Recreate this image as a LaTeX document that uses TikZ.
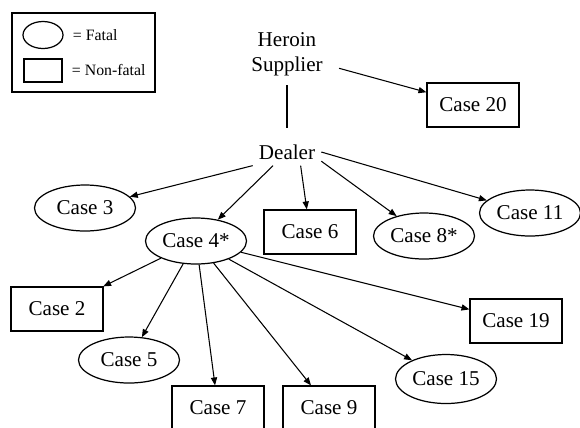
\documentclass[tikz,border=0pt]{standalone}
\usepackage{fontspec}
\setmainfont{Liberation Serif}
\usetikzlibrary{positioning, shapes.geometric, arrows.meta}

\begin{document}
\begin{tikzpicture}[
                 x = 0.02cm, y = -0.02cm,
              font = \fontsize{12}{14}\selectfont,
                 > = {Triangle[length=4.5pt, width=3.5pt]},
     node distance = 1.8mm and 1.8mm,
       fatal/.style = {ellipse, draw, line width=0.7pt, inner sep=1pt,
                       minimum width=20.2mm, minimum height=9.2mm},
    nonfatal/.style = {rectangle, draw, line width=0.7pt,
                       minimum width=18.4mm, minimum height=8.8mm},
       plain/.style = {align=center},
     keytext/.style = {inner sep=0pt, font=\fontsize{9}{11}\selectfont},
        link/.style = {->, line width=0.6pt}
                        ]
\useasboundingbox (0,0) rectangle (580,427);
% legend
\node (key) [draw, line width=0.7pt, minimum width=28.6mm, minimum height=15.8mm] at (83.5,52.5) {};
\node (keyfatal) [ellipse, draw, line width=0.7pt, inner sep=0pt,
                  minimum width=8mm, minimum height=5.4mm] at (43,35) {};
\node (keynonfatal) [rectangle, draw, line width=0.7pt, inner sep=0pt,
                     minimum width=7.6mm, minimum height=4.6mm] at (43,70.5) {};
\node (keyfataltext) [keytext, right=of keyfatal] {= Fatal};
\node (keynonfataltext) [keytext, right=of keynonfatal] {= Non-fatal};
% people
\node (supplier) [plain] at (287,54) {Heroin\\Supplier};
\node (dealer)   [plain] at (287,152) {Dealer};
% cases
\node (case20) [nonfatal] at (473,105) {Case 20};
\node (case3)  [fatal]    at (85,208)  {Case 3};
\node (case4)  [fatal]    at (196,241) {Case 4*};
\node (case6)  [nonfatal] at (310,232) {Case 6};
\node (case8)  [fatal]    at (424,236) {Case 8*};
\node (case11) [fatal]    at (530,213) {Case 11};
\node (case2)  [nonfatal] at (57,309)  {Case 2};
\node (case5)  [fatal]    at (129,360) {Case 5};
\node (case7)  [nonfatal] at (218,408) {Case 7};
\node (case9)  [nonfatal] at (329,408) {Case 9};
\node (case15) [fatal, minimum height=9.8mm] at (446,379) {Case 15};
\node (case19) [nonfatal] at (516,321) {Case 19};
% connectors
\draw[line width=0.6pt, shorten <=2pt, shorten >=6pt] (supplier.south) -- (dealer.north);
\draw[link, shorten <=6pt] (supplier) -- (case20);
\draw[link] (dealer.south west) -- (case3);
\draw[link] (dealer) -- (case4);
\draw[link] (dealer.-45) -- (case6);
\draw[link] (dealer.-15) -- (case8);
\draw[link] (dealer.east) -- (case11);
\draw[link] (case4) -- (case2);
\draw[link] (case4) -- (case5);
\draw[link] (case4) -- (case7);
\draw[link] (case4) -- (case9);
\draw[link] (case4) -- (case15);
\draw[link] (case4) -- (case19);
\end{tikzpicture}
\end{document}
